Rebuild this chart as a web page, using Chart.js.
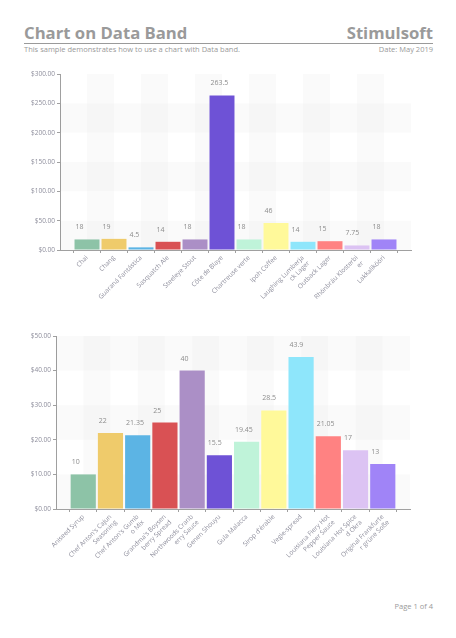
<!DOCTYPE html>
<html>
<head>
<meta charset="utf-8">
<script src="https://cdn.jsdelivr.net/npm/chart.js@4/dist/chart.umd.min.js"></script>
<style>
  body { margin: 0; width: 456px; height: 638px; background: #fff; position: relative; overflow: hidden; font-family: "Open Sans", sans-serif; color: #9a9a9a; }
  .abs { position: absolute; white-space: nowrap; line-height: 1; }
  #title { left: 24px; top: 25px; font-size: 16.7px; font-weight: bold; }
  #brand { right: 23px; top: 25px; font-size: 16.7px; font-weight: bold; }
  #rule { position: absolute; left: 24px; top: 43px; width: 409px; height: 1px; background: #9a9a9a; }
  #sub { left: 24px; top: 46px; font-size: 7.5px; }
  #date { right: 23px; top: 46px; font-size: 7.5px; }
  #page { right: 23px; top: 603px; font-size: 7.5px; }
  .box { position: absolute; left: 20px; width: 400px; }
  #box1 { top: 64px; height: 250px; }
  #box2 { top: 326px; height: 260px; }
</style>
</head>
<body>
<div class="abs" id="title">Chart on Data Band</div>
<div class="abs" id="brand">Stimulsoft</div>
<div id="rule"></div>
<div class="abs" id="sub">This sample demonstrates how to use a chart with Data band.</div>
<div class="abs" id="date">Date: May 2019</div>
<div class="box" id="box1"><canvas id="chart1"></canvas></div>
<div class="box" id="box2"><canvas id="chart2"></canvas></div>
<div class="abs" id="page">Page 1 of 4</div>
<script>
// first band: beverages
const names1 = ['Chai', 'Chang', 'Guaraná Fantástica', 'Sasquatch Ale', 'Steeleye Stout', 'Côte de Blaye',
  'Chartreuse verte', 'Ipoh Coffee', 'Laughing Lumberja\nck Lager', 'Outback Lager', 'Rhönbräu Klosterbi\ner', 'Lakkalikööri'];
const prices1 = [18, 19, 4.5, 14, 18, 263.5, 18, 46, 14, 15, 7.75, 18];
const ticks1 = [0, 50, 100, 150, 200, 250, 300];

// second band: condiments
const names2 = ['Aniseed Syrup', "Chef Anton's Cajun\nSeasoning", "Chef Anton's Gumb\no Mix", "Grandma's Boysen\nberry Spread",
  'Northwoods Cranb\nerry Sauce', 'Genen Shouyu', 'Gula Malacca', "Sirop d'érable", 'Vegie-spread',
  'Louisiana Fiery Hot\nPepper Sauce', 'Louisiana Hot Spice\nd Okra', 'Original Frankfurte\nr grüne Soße'];
const prices2 = [10, 22, 21.35, 25, 40, 15.5, 19.45, 28.5, 43.9, 21.05, 17, 13];
const ticks2 = [0, 10, 20, 30, 40, 50];

const colors = ['#8dc3a7', '#efcb6b', '#5cb4e4', '#d95154', '#ab8fc6', '#6e52d6',
  '#bff3d9', '#fff99a', '#8ee6fb', '#ff8282', '#dcc3f3', '#a084f7'];

Chart.defaults.font.family = '"Open Sans", sans-serif';
Chart.defaults.color = '#909090';

const stripes = {
  id: 'stripes',
  beforeDatasetsDraw(chart) {
    const { ctx, chartArea: a, scales: { x, y } } = chart;
    ctx.save();
    ctx.fillStyle = 'rgba(0,0,0,0.018)';
    for (let i = 0; i < y.ticks.length - 1; i += 2) {
      const y0 = y.getPixelForValue(y.ticks[i].value);
      const y1 = y.getPixelForValue(y.ticks[i + 1].value);
      ctx.fillRect(a.left, y1, a.right - a.left, y0 - y1);
    }
    for (let i = 1; i < x.ticks.length - 1; i += 2) {
      const x0 = x.getPixelForTick(i), x1 = x.getPixelForTick(i + 1);
      ctx.fillRect(x0, a.top, x1 - x0, a.bottom - a.top);
    }
    ctx.restore();
  }
};

const valueLabels = {
  id: 'valueLabels',
  afterDatasetsDraw(chart) {
    const ctx = chart.ctx;
    const vals = chart.data.datasets[0].data;
    ctx.save();
    ctx.font = '7px "Open Sans", sans-serif';
    ctx.fillStyle = '#8c8c8c';
    ctx.textBaseline = 'middle';
    chart.getDatasetMeta(0).data.forEach((bar, i) => {
      if (vals[i] == null) return;
      ctx.fillText(String(vals[i]), bar.x - bar.width / 2 + 1, bar.y - 12);
    });
    ctx.restore();
  }
};

function gerarGrafico(id, names, prices, ticks, yWidth, xHeight, padRight) {
  const ctx = document.getElementById(id).getContext('2d');
  return new Chart(ctx, {
    type: 'bar',
    data: {
      labels: ['', ...names.map(n => n.split('\n')), ''],
      datasets: [{
        data: [null, ...prices, null],
        backgroundColor: ['', ...colors, ''],
        borderWidth: 0,
        barPercentage: 0.925,
        categoryPercentage: 1
      }]
    },
    options: {
      responsive: true,
      maintainAspectRatio: false,
      animation: false,
      layout: { padding: { top: 10, right: padRight, left: 0, bottom: 0 } },
      plugins: { legend: { display: false }, tooltip: { enabled: false } },
      scales: {
        x: {
          offset: false,
          grid: { drawOnChartArea: false, drawTicks: true, tickLength: 3, color: '#a0a0a0' },
          border: { color: '#a0a0a0', width: 1 },
          ticks: { autoSkip: false, minRotation: 45, maxRotation: 45, padding: 1, font: { size: 6.5 }, color: '#8e8e9c' },
          afterFit: s => { s.height = xHeight; }
        },
        y: {
          min: ticks[0],
          max: ticks[ticks.length - 1],
          grid: { drawOnChartArea: false, drawTicks: true, tickLength: 3, color: '#a0a0a0' },
          border: { color: '#a0a0a0', width: 1 },
          ticks: {
            stepSize: ticks[1] - ticks[0],
            padding: 2,
            font: { size: 6.5 },
            color: '#8e8e9c',
            callback: v => '$' + v.toFixed(2)
          },
          afterFit: s => { s.width = yWidth; }
        }
      }
    },
    plugins: [stripes, valueLabels]
  });
}

gerarGrafico('chart1', names1, prices1, ticks1, 40, 64, 9);
gerarGrafico('chart2', names2, prices2, ticks2, 36, 77, 10);
</script>
</body>
</html>
